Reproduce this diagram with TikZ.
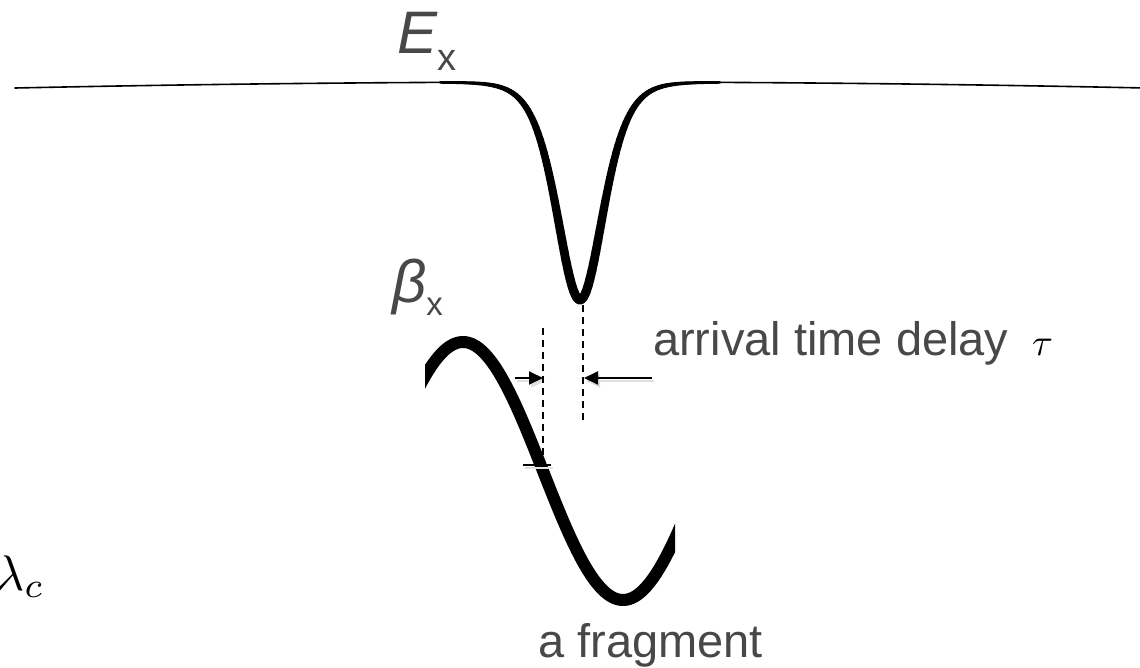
\documentclass[tikz,border=0pt]{standalone}
\usepackage{fontspec}
\usepackage{graphicx}
\setmainfont{Liberation Sans}
\usetikzlibrary{arrows.meta}
\definecolor{txt}{RGB}{72,72,72}
\tikzset{
  lbl/.style={anchor=base west, inner sep=0pt, text=txt},
  mathlbl/.style={anchor=base west, inner sep=0pt, text=black},
  dashline/.style={line width=1.8pt, dash pattern=on 7pt off 5pt},
  delayarrow/.style={line width=2pt, -{Triangle[length=14pt,width=13pt]}},
  shadowline/.style={line width=2.4pt, black!12},
}
\begin{document}
\begin{tikzpicture}[x=1pt,y=-1pt,
  declare function={bx(\x)=82+6*((\x-580)/565)^2;
                    ex(\x)=bx(\x)+218/(cosh((\x-580)/31))^2;
                    ew(\x)=1.6+7.5/cosh((\x-580)/50);
                    sx(\x)=471-129*cos(1.125*(\x-463));}]
\useasboundingbox (0,0) rectangle (1140,667);

% E_x pulse
\draw[line width=1.6pt, line cap=round] plot[domain=15:440, samples=60] (\x,{bx(\x)});
\foreach \x in {440,442,...,718} {
  \pgfmathsetmacro\ya{ex(\x)}
  \pgfmathsetmacro\yb{ex(\x+2)}
  \pgfmathsetmacro\w{ew(\x+1)}
  \draw[line width=\w pt, line cap=round] (\x,\ya) -- (\x+2,\yb);
}
\draw[line width=1.6pt, line cap=round] plot[domain=720:1140, samples=60] (\x,{bx(\x)});

% sine fragment
\begin{scope}
  \clip (425,300) rectangle (675,640);
  \draw[line width=12pt] plot[domain=410:690, samples=120] (\x,{sx(\x)});
\end{scope}

% coordinates
\coordinate (dLtop) at (543,328);
\coordinate (dLbot) at (543,465);
\coordinate (dRtop) at (583,305);
\coordinate (dRbot) at (583,423);
\coordinate (aLs) at (515,378);
\coordinate (aLe) at (543,378);
\coordinate (aRs) at (652,378);
\coordinate (aRe) at (584,378);
\coordinate (tL) at (523,465);
\coordinate (tR) at (551,465);

% shadows
\draw[shadowline] ([shift={(2,3)}]tL) -- ([shift={(2,3)}]tR);
\draw[shadowline, -{Triangle[length=14pt,width=13pt]}] ([shift={(2,3)}]aLs) -- ([shift={(2,3)}]aLe);
\draw[shadowline, -{Triangle[length=14pt,width=13pt]}] ([shift={(2,3)}]aRs) -- ([shift={(2,3)}]aRe);

\draw[dashline] (dLtop) -- (dLbot);
\draw[dashline] (dRtop) -- (dRbot);
\draw[delayarrow] (aLs) -- (aLe);
\draw[delayarrow] (aRs) -- (aRe);
\draw[line width=1.5pt] (tL) -- (tR);

% labels
\node[lbl] (Ex) at (397,53) {\fontsize{60}{60}\selectfont\itshape E\upshape\fontsize{38}{38}\selectfont\raisebox{-17pt}{x}};
\node[lbl] (bx) at (392,302) {\fontsize{60}{60}\selectfont\itshape β\upshape\fontsize{33}{33}\selectfont\raisebox{-13pt}{x}};
\node[lbl] (delay) at (653,355) {\fontsize{47}{47}\selectfont arrival time delay};
\node[mathlbl] (tau) at (1032,355) {\scalebox{3.8}{$\tau$}};
\node[lbl] (frag) at (538,657) {\fontsize{47}{47}\selectfont a fragment};
\node[mathlbl] (lam) at (-5,590) {\scalebox{5}{$\lambda_c$}};
\end{tikzpicture}
\end{document}
